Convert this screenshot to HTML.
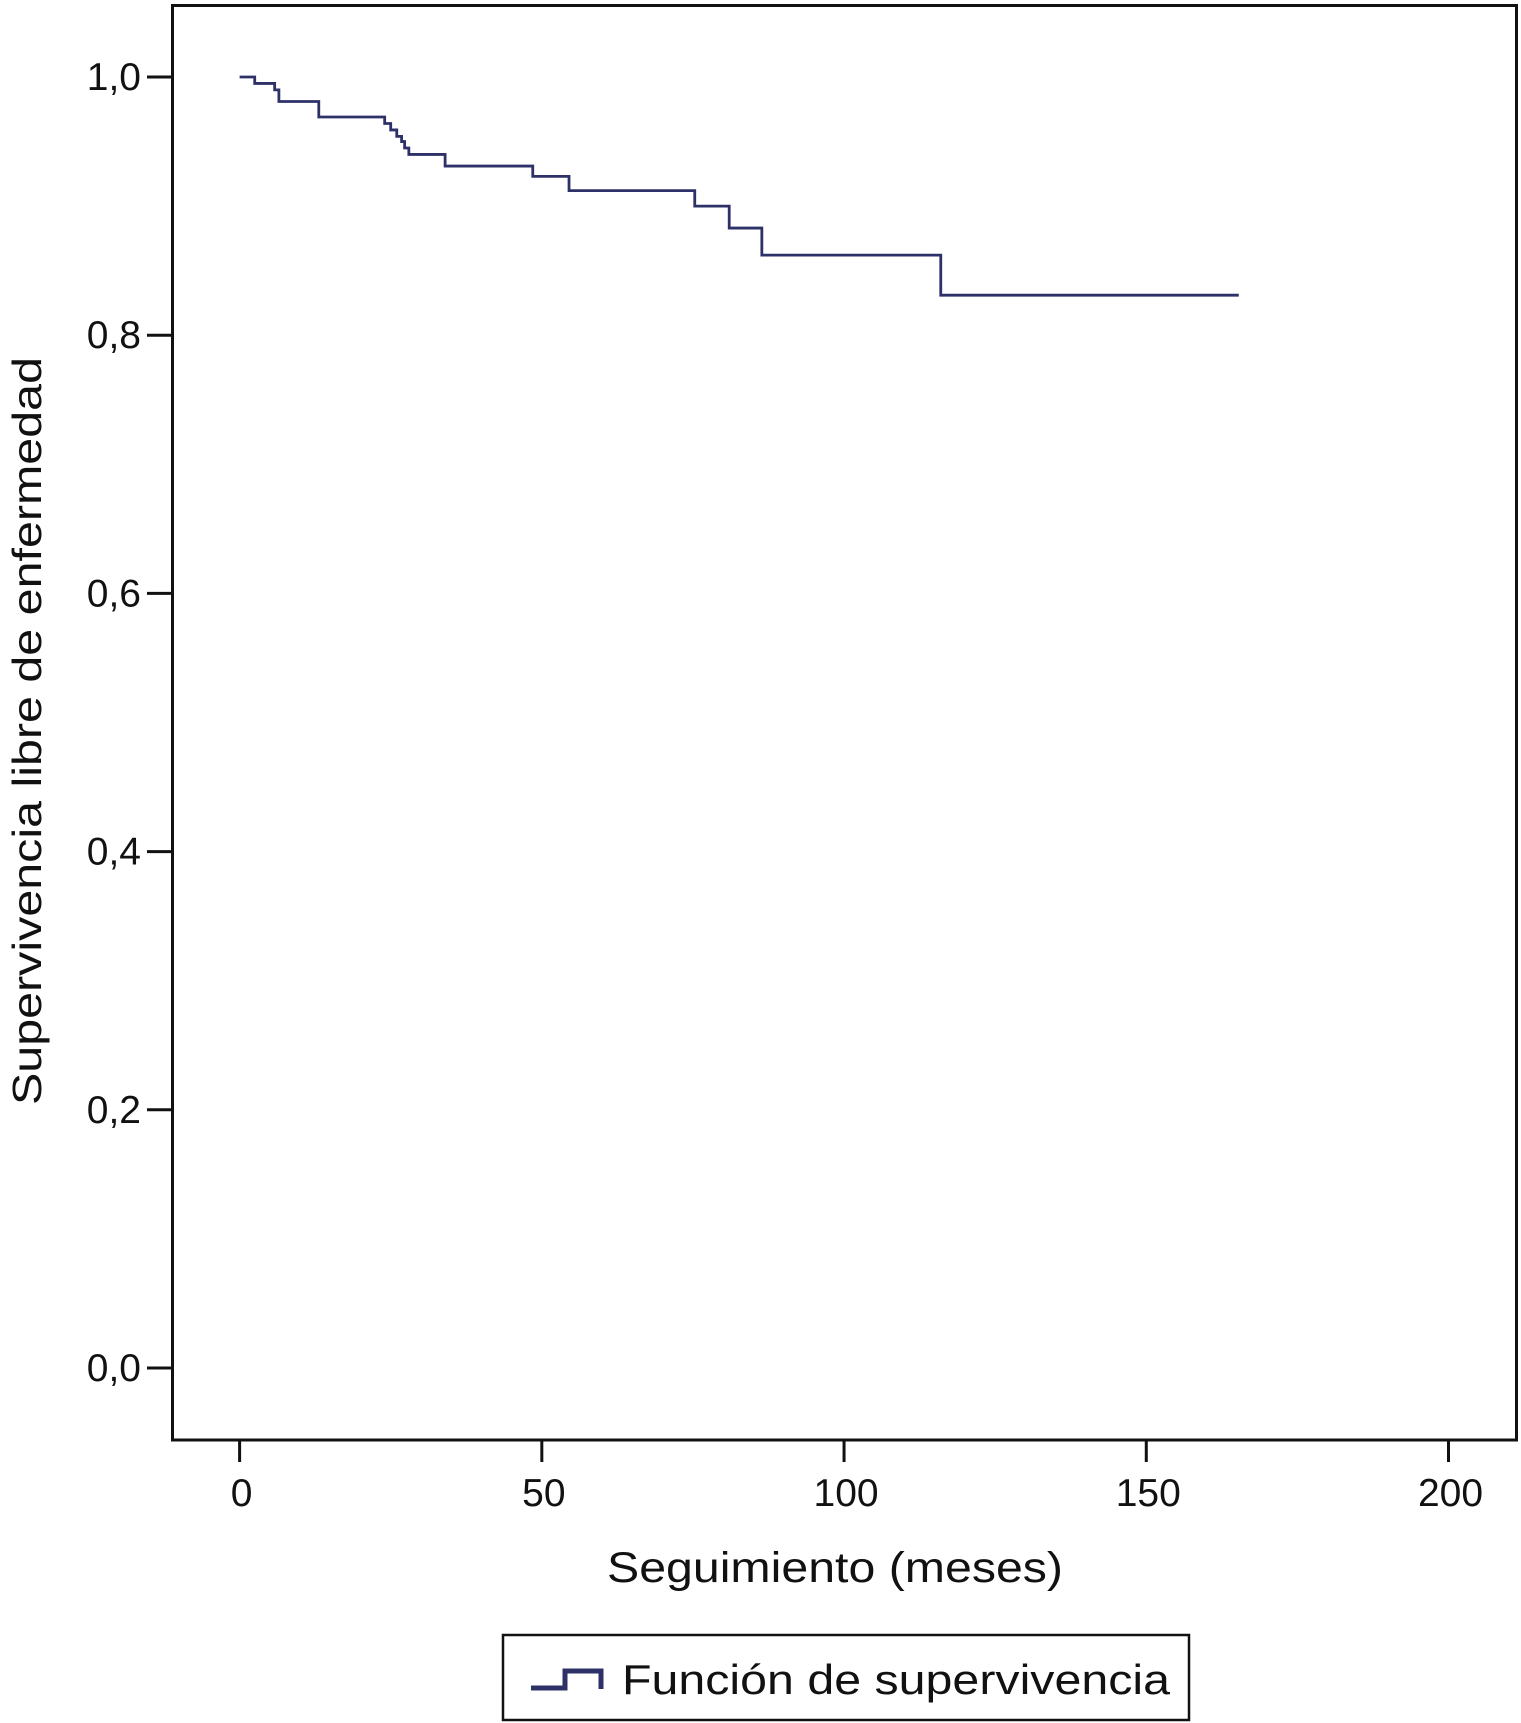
<!DOCTYPE html>
<html><head><meta charset="utf-8"><style>
html,body{margin:0;padding:0;background:#fff;}
svg{display:block;font-family:"Liberation Sans",Arial,sans-serif;}
</style></head><body>
<svg id="chart" width="1521" height="1723" viewBox="0 0 1521 1723">
<rect x="172.5" y="5.5" width="1344" height="1434.5" fill="none" stroke="#111" stroke-width="3"/>
<g id="axes"></g>
<path id="curve" fill="none" stroke="#2e3168" stroke-width="2.8"/>
<text x="27" y="731" transform="rotate(-90 27 731)" font-size="41" text-anchor="middle" dominant-baseline="central" textLength="748" lengthAdjust="spacingAndGlyphs" fill="#111">Supervivencia libre de enfermedad</text>
<text x="835" y="1582" font-size="43" text-anchor="middle" textLength="456" lengthAdjust="spacingAndGlyphs" fill="#111">Seguimiento (meses)</text>
<g>
<rect x="503" y="1635" width="686" height="85" fill="#fff" stroke="#111" stroke-width="2.5"/>
<path d="M531 1688 H565 V1671 H601 V1689" fill="none" stroke="#2e3168" stroke-width="5"/>
<text x="622" y="1694" font-size="42" textLength="548" lengthAdjust="spacingAndGlyphs" fill="#111">Función de supervivencia</text>
</g>
</svg>
<script>
const times = [0, 2.5, 5.8, 6.5, 13.1, 24, 25, 26, 26.8, 27.3, 28, 34, 48.5, 54.5, 75.3, 81, 86.4, 116];
const survival = [1.0, 0.995, 0.990, 0.981, 0.969, 0.964, 0.959, 0.954, 0.950, 0.945, 0.940, 0.931, 0.923, 0.912, 0.900, 0.883, 0.862, 0.831];
const endTime = 165.3;
const xTicks = [0, 50, 100, 150, 200];
const yTicks = [0, 0.2, 0.4, 0.6, 0.8, 1.0];
const yTickLabels = ["0,0", "0,2", "0,4", "0,6", "0,8", "1,0"];

const xs = v => 239.6 + v * (1448.5 - 239.6) / 200;
const ys = v => 1368 - v * (1368 - 77);
const ns = "http://www.w3.org/2000/svg";
const axes = document.getElementById('axes');

xTicks.forEach(t => {
  const l = document.createElementNS(ns, 'line');
  l.setAttribute('x1', xs(t)); l.setAttribute('x2', xs(t));
  l.setAttribute('y1', 1440); l.setAttribute('y2', 1462);
  l.setAttribute('stroke', '#111'); l.setAttribute('stroke-width', 3);
  
  
  axes.appendChild(l);
  const tx = document.createElementNS(ns, 'text');
  tx.setAttribute('x', xs(t) + 2); tx.setAttribute('y', 1506);
  tx.setAttribute('font-size', 39); tx.setAttribute('text-anchor', 'middle'); tx.setAttribute('fill', '#111');
  tx.textContent = t;
  
  
  axes.appendChild(tx);
});
yTicks.forEach((t, i) => {
  const l = document.createElementNS(ns, 'line');
  l.setAttribute('x1', 147); l.setAttribute('x2', 172);
  l.setAttribute('y1', ys(t)); l.setAttribute('y2', ys(t));
  l.setAttribute('stroke', '#111'); l.setAttribute('stroke-width', 3);
  
  
  axes.appendChild(l);
  const tx = document.createElementNS(ns, 'text');
  tx.setAttribute('x', 141); tx.setAttribute('y', ys(t) + 13);
  tx.setAttribute('font-size', 39); tx.setAttribute('text-anchor', 'end'); tx.setAttribute('fill', '#111');
  tx.textContent = yTickLabels[i];
  
  
  axes.appendChild(tx);
});
let d = 'M' + xs(times[0]) + ' ' + ys(survival[0]);
for (let i = 1; i < times.length; i++) {
  d += ' H' + xs(times[i]) + ' V' + ys(survival[i]);
}
d += ' H' + xs(endTime);
document.getElementById('curve').setAttribute('d', d);
</script>
</body></html>
